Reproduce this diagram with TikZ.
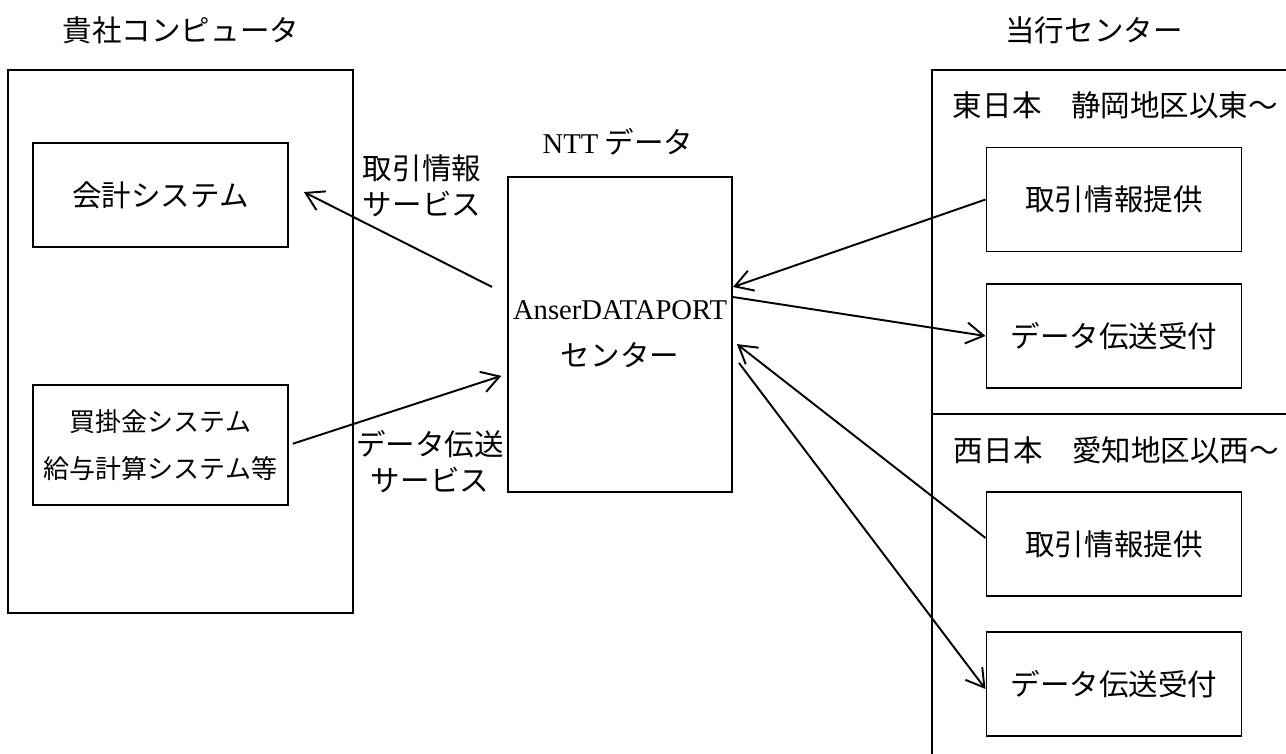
\documentclass[tikz,border=0pt]{standalone}
\usepackage{fontspec}
\setmainfont{Noto Sans CJK JP}
\newfontfamily\latinfont{Liberation Serif}
\usetikzlibrary{arrows.meta}

\begin{document}
\begin{tikzpicture}[line width=1.1pt, >={Straight Barb[length=0.35cm,width=0.42cm]}]
        \tikzstyle{sysnode}=[rectangle, draw, inner sep=0pt, minimum width=5.1cm, minimum height=2.08cm, font=\fontsize{16.8}{20.4}\selectfont]
        \tikzstyle{framenode}=[rectangle, draw, inner sep=0pt]
        \tikzstyle{labelnode}=[inner sep=0pt, align=center, font=\fontsize{16.8}{20.4}\selectfont]
        \useasboundingbox (0,0) rectangle (25.72,15.06);
        \clip (0,0) rectangle (25.72,15.06);
        % frames
        \node[framenode, minimum width=6.9cm, minimum height=10.86cm] (client) at (3.61,8.23) {};
        \node[framenode, minimum width=7.36cm, minimum height=6.88cm] (east) at (22.32,10.22) {};
        \node[framenode, minimum width=7.36cm, minimum height=7.08cm] (west) at (22.32,3.24) {};
        \node[framenode, minimum width=4.48cm, minimum height=6.3cm, align=center, font=\fontsize{16.8}{26.7}\selectfont] (ctr) at (12.40,8.37)
            {{\latinfont\fontsize{16.3}{26.7}\selectfont AnserDATAPORT}\\センター};
        % titles
        \node[labelnode] (clientT) at (3.62,14.46) {貴社コンピュータ};
        \node[labelnode] (bankT) at (21.88,14.46) {当行センター};
        \node[labelnode] (nttT) at (12.36,12.22) {{\latinfont\fontsize{16.3}{20}\selectfont NTT} データ};
        \node[labelnode, anchor=west] (eastT) at (19.04,12.96) {東日本　静岡地区以東～};
        \node[labelnode, anchor=west] (westT) at (19.06,6.06) {西日本　愛知地区以西～};
        % systems
        \node[sysnode] (acct) at (3.21,11.16) {会計システム};
        \node[sysnode, minimum height=2.4cm, align=center, font=\fontsize{14.8}{26.7}\selectfont] (pay) at (3.21,6.16) {買掛金システム\\給与計算システム等};
        \node[sysnode] (e1) at (22.28,11.07) {取引情報提供};
        \node[sysnode] (e2) at (22.28,8.34) {データ伝送受付};
        \node[sysnode] (w1) at (22.28,4.18) {取引情報提供};
        \node[sysnode] (w2) at (22.28,1.38) {データ伝送受付};
        % services
        \node[labelnode] (infoL) at (8.44,11.34) {取引情報\\サービス};
        \node[labelnode] (sendL) at (8.60,5.82) {データ伝送\\サービス};
        % arrows
        \path[->, shorten <=0.335cm, shorten >=0.335cm] ([yshift=0.8cm]ctr.west) edge ([yshift=0.21cm]acct.east);
        \path[->, shorten <=0.08cm, shorten >=0.12cm] (pay.east) edge ([yshift=-0.79cm]ctr.west);
        \path[->] (e1.west) edge ([yshift=0.95cm]ctr.east);
        \path[->] ([yshift=0.75cm]ctr.east) edge (e2.west);
        \path[->, shorten >=0.1cm] ([yshift=0.12cm]w1.west) edge ([yshift=-0.13cm]ctr.east);
        \path[->, shorten <=0.2cm] ([yshift=-0.41cm]ctr.east) edge ([yshift=-0.1cm]w2.west);
\end{tikzpicture}
\end{document}
